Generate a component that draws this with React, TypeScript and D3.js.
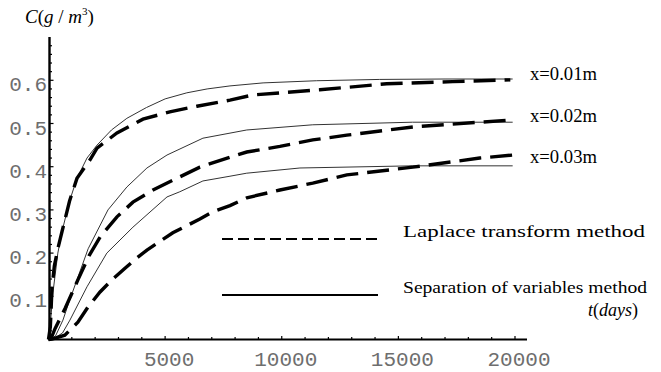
import React from "react";
import * as d3 from "d3";

// Concentration C (g/m^3) versus time t (days) at three depths.
// Each series is a list of [t, C] pairs.
const sepVar001: [number, number][] = [
  [0, 0], [100, 0.05], [190, 0.108], [400, 0.2], [580, 0.25], [900, 0.32],
  [1220, 0.373], [1650, 0.42], [2080, 0.45], [2700, 0.485], [3360, 0.512],
  [4200, 0.537], [5000, 0.557], [5930, 0.571], [6800, 0.58], [7780, 0.587],
  [9200, 0.594], [11500, 0.599], [14200, 0.602], [17000, 0.603], [19900, 0.603],
];
const laplace001: [number, number][] = [
  [0, 0], [80, 0.03], [150, 0.12], [250, 0.17], [400, 0.21], [580, 0.25],
  [900, 0.32], [1220, 0.373], [1780, 0.416], [2080, 0.443], [2935, 0.478],
  [4050, 0.51], [5200, 0.527], [6360, 0.54], [7780, 0.554], [8760, 0.566],
  [11630, 0.578], [14500, 0.592], [17330, 0.597], [19800, 0.601],
];
const sepVar002: [number, number][] = [
  [0, 0], [300, 0.008], [620, 0.045], [900, 0.09], [1220, 0.138], [1700, 0.21],
  [2550, 0.3], [3360, 0.353], [4220, 0.397], [5080, 0.427], [6620, 0.466],
  [8500, 0.485], [11330, 0.497], [15600, 0.503], [19900, 0.503],
];
const laplace002: [number, number][] = [
  [0, 0], [150, 0.008], [280, 0.025], [720, 0.073], [1260, 0.138], [1750, 0.195],
  [2210, 0.237], [2935, 0.284], [3620, 0.318], [4480, 0.346], [5500, 0.373],
  [6490, 0.399], [7780, 0.422], [8500, 0.434], [9920, 0.447], [11330, 0.462],
  [12790, 0.473], [15620, 0.492], [18490, 0.503], [19800, 0.508],
];
const sepVar003: [number, number][] = [
  [0, 0], [280, 0.004], [600, 0.015], [920, 0.045], [1650, 0.122], [2500, 0.2],
  [3620, 0.26], [5080, 0.33], [5630, 0.342], [6620, 0.367], [7780, 0.378],
  [8500, 0.385], [10780, 0.397], [15600, 0.402], [19900, 0.402],
];
const laplace003: [number, number][] = [
  [0, 0], [150, 0.001], [700, 0.01], [1260, 0.04], [1690, 0.075], [2210, 0.11],
  [2720, 0.138], [3280, 0.165], [3790, 0.189], [4220, 0.207], [5330, 0.247],
  [6490, 0.279], [7050, 0.296], [7780, 0.31], [8500, 0.328], [9920, 0.346],
  [11330, 0.362], [12790, 0.381], [15620, 0.399], [18490, 0.42], [19900, 0.427],
];

const curveLabels = ["x=0.01m", "x=0.02m", "x=0.03m"];
const labelLevels = [0.603, 0.506, 0.41];
const xTickValues = [5000, 10000, 15000, 20000];
const yTickValues = [0.1, 0.2, 0.3, 0.4, 0.5, 0.6];
const legendLabels = ["Laplace transform method", "Separation of variables method"];

const W = 661;
const H = 372;

export default function App() {
  const x = d3.scaleLinear().domain([0, 20000]).range([48.5, 515]);
  const y = d3.scaleLinear().domain([0, 0.7]).range([339.5, 37.1]);
  const line = d3
    .line<[number, number]>()
    .x((d) => x(d[0]))
    .y((d) => y(d[1]))
    .curve(d3.curveLinear);

  const x0 = x(0);
  const y0 = y(0);
  const xMinor = d3.range(1000, 20001, 1000);
  const yMinor = d3.range(1, 35).map((i) => i * 0.02);

  const serif = "'Liberation Serif', 'Times New Roman', serif";
  const mono = "'Liberation Mono', 'Courier New', monospace";

  const solids = [sepVar001, sepVar002, sepVar003];
  const dashes = [laplace001, laplace002, laplace003];

  return (
    <svg
      width={W}
      height={H}
      style={{ position: "absolute", left: 0, top: 0, background: "#fff" }}
    >
      <rect width={W} height={H} fill="#fff" />

      {/* axes */}
      <line x1={x0} y1={y0} x2={527} y2={y0} stroke="#000" strokeWidth={2} />
      <line x1={x0 + 1} y1={y0 + 1} x2={x0 + 1} y2={y(0.7)} stroke="#000" strokeWidth={2.4} />

      {xMinor.map((t) => (
        <line
          key={"xt" + t}
          x1={x(t)}
          x2={x(t)}
          y1={y0}
          y2={y0 - (t % 5000 === 0 ? 3.5 : 2.5)}
          stroke="#000"
          strokeWidth={1.2}
        />
      ))}
      {yMinor.map((c, i) => (
        <line
          key={"yt" + i}
          x1={x0 + 1}
          x2={x0 + 1 + ((i + 1) % 5 === 0 ? 4 : 2.5)}
          y1={y(c)}
          y2={y(c)}
          stroke="#000"
          strokeWidth={1.2}
        />
      ))}

      {xTickValues.map((t) => (
        <text
          key={"xl" + t}
          x={x(t) + 4}
          y={366}
          textAnchor="middle"
          fontFamily={mono}
          fontSize={21}
          fill="#6e6e6e"
        >
          {t}
        </text>
      ))}
      {yTickValues.map((c) => (
        <text
          key={"yl" + c}
          x={47}
          y={y(c) + 11}
          textAnchor="end"
          fontFamily={mono}
          fontSize={21}
          fill="#6e6e6e"
        >
          {c.toFixed(1)}
        </text>
      ))}

      {/* axis titles */}
      <text x={25} y={23} fontFamily={serif} fontSize={19} fill="#000">
        <tspan fontStyle="italic">C</tspan>
        <tspan>(</tspan>
        <tspan fontStyle="italic">g</tspan>
        <tspan> / </tspan>
        <tspan fontStyle="italic">m</tspan>
        <tspan fontSize={11} dy={-8}>3</tspan>
        <tspan dy={8}>)</tspan>
      </text>
      <text x={588} y={316} fontFamily={serif} fontSize={18} fill="#000">
        <tspan fontStyle="italic">t</tspan>
        <tspan>(</tspan>
        <tspan fontStyle="italic">days</tspan>
        <tspan>)</tspan>
      </text>

      {/* curves */}
      {solids.map((s, i) => (
        <path key={"s" + i} d={line(s) || ""} fill="none" stroke="#333" strokeWidth={1} />
      ))}
      {dashes.map((s, i) => (
        <path
          key={"d" + i}
          d={line(s) || ""}
          fill="none"
          stroke="#000"
          strokeWidth={3.4}
          strokeDasharray="22,9"
        />
      ))}

      {curveLabels.map((l, i) => (
        <text
          key={l}
          x={530}
          y={y(labelLevels[i]) + 1}
          fontFamily={serif}
          fontSize={18}
          fill="#000"
          textLength={67}
          lengthAdjust="spacingAndGlyphs"
        >
          {l}
        </text>
      ))}

      {/* legend */}
      <line x1={222} x2={378} y1={239} y2={239} stroke="#000" strokeWidth={2} strokeDasharray="11,5" />
      <text
        x={403}
        y={237}
        fontFamily={serif}
        fontSize={17}
        fill="#000"
        textLength={242}
        lengthAdjust="spacingAndGlyphs"
      >
        {legendLabels[0]}
      </text>
      <line x1={222} x2={378} y1={295} y2={295} stroke="#000" strokeWidth={2} />
      <text
        x={403}
        y={293}
        fontFamily={serif}
        fontSize={17}
        fill="#000"
        textLength={244}
        lengthAdjust="spacingAndGlyphs"
      >
        {legendLabels[1]}
      </text>
    </svg>
  );
}
